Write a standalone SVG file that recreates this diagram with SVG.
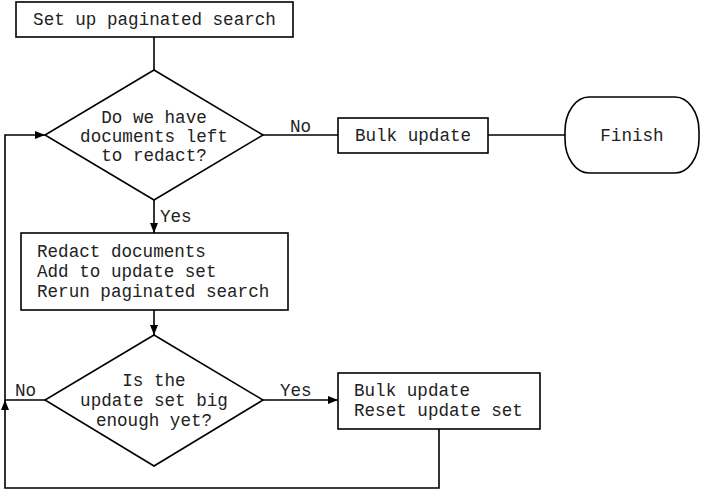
<svg xmlns="http://www.w3.org/2000/svg" width="703" height="490" viewBox="0 0 703 490">
<style>
.s{fill:#fff;stroke:#000;stroke-width:1.6}
.c{fill:none;stroke:#000;stroke-width:1.6}
text{font-family:"Liberation Mono","Courier New",monospace;font-size:17.6px;fill:#222}
.m{text-anchor:middle}
</style>
<defs>
<marker id="a" viewBox="0 0 10 8" refX="10" refY="4" markerWidth="10" markerHeight="8" markerUnits="userSpaceOnUse" orient="auto">
<path d="M0,0 L10,4 L0,8 Z" fill="#000"/>
</marker>
</defs>
<rect width="703" height="490" fill="#fff"/>
<g id="connectors">
<path class="c" d="M154,37 V70"/>
<path class="c" d="M154,200 V233" marker-end="url(#a)"/>
<path class="c" d="M154,310 V335" marker-end="url(#a)"/>
<path class="c" d="M263,135 H338"/>
<path class="c" d="M488,135 H565"/>
<path class="c" d="M263,400 H338" marker-end="url(#a)"/>
<path class="c" d="M45,400 H5"/>
<path class="c" d="M439,429 V488 H5 V400" marker-end="url(#a)"/>
<path class="c" d="M5,400 V135 H45" marker-end="url(#a)"/>
<text x="290" y="132">No</text>
<text x="160" y="222">Yes</text>
<text x="15" y="396">No</text>
<text x="280" y="396">Yes</text>
</g>
<g id="setup">
<rect class="s" x="16" y="2" width="277" height="35"/>
<text class="m" x="154.5" y="25">Set up paginated search</text>
</g>
<g id="docs-left">
<path class="s" d="M154,70 L263,135 L154,200 L45,135 Z"/>
<text class="m" x="154" y="123">Do we have</text>
<text class="m" x="154" y="142">documents left</text>
<text class="m" x="154" y="161">to redact?</text>
</g>
<g id="bulk-final">
<rect class="s" x="338" y="118" width="150" height="35"/>
<text class="m" x="413" y="141">Bulk update</text>
</g>
<g id="finish">
<rect class="s" x="565" y="97" width="134" height="76" rx="24" ry="34"/>
<text class="m" x="632" y="141">Finish</text>
</g>
<g id="redact">
<rect class="s" x="21" y="233" width="267" height="77"/>
<text x="37" y="257">Redact documents</text>
<text x="37" y="277">Add to update set</text>
<text x="37" y="297">Rerun paginated search</text>
</g>
<g id="big-enough">
<path class="s" d="M154,335 L263,400 L154,466 L45,400 Z"/>
<text class="m" x="154" y="386">Is the</text>
<text class="m" x="154" y="406">update set big</text>
<text class="m" x="154" y="426">enough yet?</text>
</g>
<g id="bulk-reset">
<rect class="s" x="338" y="373" width="202" height="56"/>
<text x="354" y="396">Bulk update</text>
<text x="354" y="416">Reset update set</text>
</g>
</svg>
